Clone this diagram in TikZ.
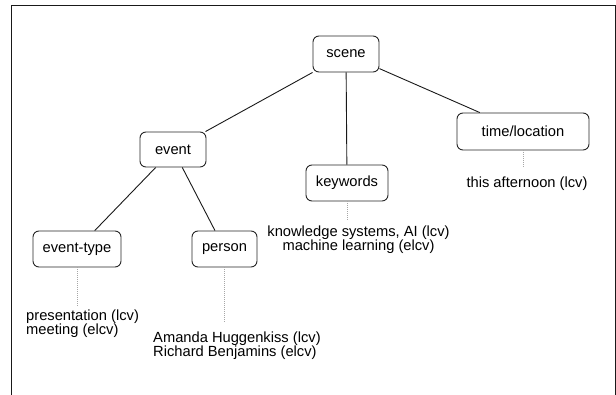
\documentclass[tikz,border=0pt]{standalone}
\usepackage{fontspec}
\setmainfont{Liberation Sans}
\begin{document}
\begin{tikzpicture}[x=1pt,y=-1pt,
  box/.style={draw=black!85, line width=0.9pt, rounded corners=6pt, inner sep=0pt,
    minimum height=36pt, font=\fontsize{14.7}{14}\selectfont},
  lbl/.style={inner sep=0pt, font=\fontsize{14.7}{14}\selectfont},
  edge/.style={draw=black!90, line width=0.9pt},
  dots/.style={draw=black!35, line width=0.8pt, dash pattern=on 1pt off 1pt}]
\useasboundingbox (0,0) rectangle (616,395);
\draw[line width=1pt, black!90] (11,400) -- (11,6) -- (615,6) -- (615,400);

\node[box, minimum width=66pt] (scene) at (346,54) {scene};
\node[box, minimum width=66pt, minimum height=35pt] (event) at (173,149.5) {event};
\node[box, minimum width=82pt] (keywords) at (347,183) {keywords};
\node[box, minimum width=132pt, minimum height=37pt] (time) at (523,131.5) {time/location};
\node[box, minimum width=88pt] (etype) at (77,249) {event-type};
\node[box, minimum width=65pt] (person) at (224.5,249) {person};

\draw[edge] (scene) -- (event);
\draw[edge] (scene) -- (keywords);
\draw[edge] (scene) -- (time);
\draw[edge] (event) -- (etype);
\draw[edge] (event) -- (person);

\node[lbl, anchor=base west, align=left] (etypeL) at (26,335) {presentation (lcv)\\meeting (elcv)};
\node[lbl, anchor=base west, align=left] (personL) at (153,357) {Amanda Huggenkiss (lcv)\\Richard Benjamins (elcv)};
\node[lbl, anchor=base, align=center] (keywordsL) at (358.5,251) {knowledge systems, AI (lcv)\\machine learning (elcv)};
\node[lbl, anchor=base] (timeL) at (527,188) {this afternoon (lcv)};

\coordinate (etypeE) at (77,307);
\coordinate (personE) at (224.5,322);
\coordinate (keywordsE) at (347,220);
\coordinate (timeE) at (523,167);
\draw[dots] (etype.south) -- (etypeE);
\draw[dots] (person.south) -- (personE);
\draw[dots] (keywords.south) -- (keywordsE);
\draw[dots] (time.south) -- (timeE);
\end{tikzpicture}
\end{document}
